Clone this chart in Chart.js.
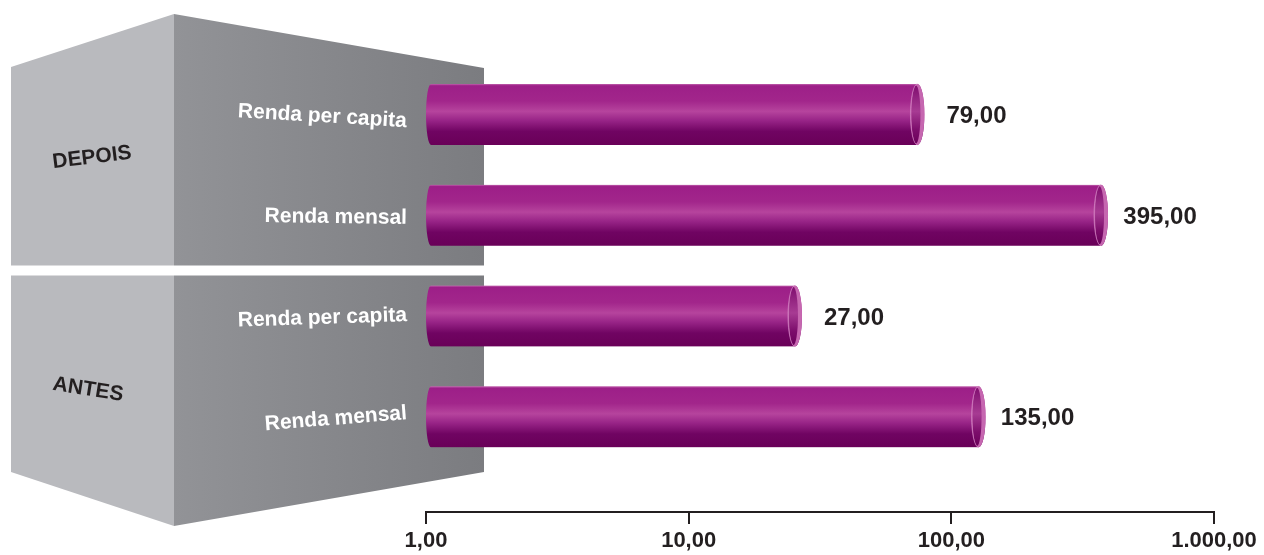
<!DOCTYPE html>
<html><head><meta charset="utf-8">
<script src="https://cdn.jsdelivr.net/npm/chart.js@4.4.1/dist/chart.umd.min.js"></script>
<style>html,body{margin:0;padding:0;background:#fff;}#wrap{width:1264px;height:555px;}</style>
</head><body><div id="wrap"><canvas id="c" width="1264" height="555"></canvas></div>
<script>
// ---- data ----
const groups = ['DEPOIS', 'ANTES'];
const categories = ['Renda per capita', 'Renda mensal', 'Renda per capita', 'Renda mensal'];
const values = [79, 395, 27, 135];
const xTicks = [1, 10, 100, 1000];

// ---- style ----
const FONT = '"Liberation Sans", Arial, Helvetica, sans-serif';
const INK = '#231f20';
const BAR_T = 61;

function fmt(v) {
  const parts = Number(v).toFixed(2).split('.');
  return parts[0].replace(/\B(?=(\d{3})+(?!\d))/g, '.') + ',' + parts[1];
}

function barGradient(ctx, yc) {
  if (!isFinite(yc)) return '#a0248a';
  const g = ctx.createLinearGradient(0, yc - BAR_T / 2, 0, yc + BAR_T / 2);
  g.addColorStop(0, '#c266ae');
  g.addColorStop(0.03, '#9d1f88');
  g.addColorStop(0.28, '#a2268b');
  g.addColorStop(0.45, '#b6449d');
  g.addColorStop(0.6, '#982487');
  g.addColorStop(0.78, '#700462');
  g.addColorStop(1, '#690058');
  return g;
}

const decor = {
  id: 'decor',
  beforeDraw(chart) {
    const ctx = chart.ctx, ys = chart.scales.y;
    const xL = 11, xM = 174, xR = 484;
    const sep = (ys.getPixelForValue(1) + ys.getPixelForValue(2)) / 2;
    const top2 = sep + 10;
    ctx.save();
    const dark = ctx.createLinearGradient(xM, 0, xR, 0);
    dark.addColorStop(0, '#929397');
    dark.addColorStop(1, '#7b7c80');
    // upper box
    ctx.fillStyle = '#b9babe';
    ctx.beginPath(); ctx.moveTo(xL, 67); ctx.lineTo(xM, 14); ctx.lineTo(xM, sep); ctx.lineTo(xL, sep); ctx.closePath(); ctx.fill();
    ctx.fillStyle = dark;
    ctx.beginPath(); ctx.moveTo(xM, 14); ctx.lineTo(xR, 68); ctx.lineTo(xR, sep); ctx.lineTo(xM, sep); ctx.closePath(); ctx.fill();
    // lower box
    ctx.fillStyle = '#b9babe';
    ctx.beginPath(); ctx.moveTo(xL, top2); ctx.lineTo(xM, top2); ctx.lineTo(xM, 526); ctx.lineTo(xL, 472); ctx.closePath(); ctx.fill();
    ctx.fillStyle = dark;
    ctx.beginPath(); ctx.moveTo(xM, top2); ctx.lineTo(xR, top2); ctx.lineTo(xR, 472); ctx.lineTo(xM, 526); ctx.closePath(); ctx.fill();
    // group labels
    ctx.fillStyle = INK;
    ctx.font = 'bold 21px ' + FONT;
    ctx.textAlign = 'center'; ctx.textBaseline = 'middle';
    const gl = [[groups[0], 92, sep - 108, -7], [groups[1], 88, sep + 124, 9]];
    gl.forEach(([t, x, y, a]) => {
      ctx.save(); ctx.translate(x, y); ctx.rotate(a * Math.PI / 180); ctx.fillText(t, 0, 0); ctx.restore();
    });
    // category labels
    ctx.fillStyle = '#ffffff';
    ctx.font = 'bold 21px ' + FONT;
    categories.forEach((t, i) => {
      const y = ys.getPixelForValue(i) + 2;
      const w = ctx.measureText(t).width;
      const a = (246 - y) * 0.026;
      ctx.save(); ctx.translate(407 - w / 2, y); ctx.rotate(a * Math.PI / 180); ctx.fillText(t, 0, 0); ctx.restore();
    });
    ctx.restore();
  },
  beforeDatasetsDraw(chart) {
    const ctx = chart.ctx;
    const meta = chart.getDatasetMeta(0);
    ctx.save();
    ctx.beginPath();
    meta.data.forEach(el => {
      const p = el.getProps(['x', 'y', 'base', 'height'], true);
      const h2 = p.height / 2, rl = 5, rr = 7;
      ctx.moveTo(p.base + rl, p.y + h2);
      ctx.ellipse(p.base + rl, p.y, rl, h2, 0, Math.PI / 2, Math.PI * 1.5);
      ctx.lineTo(p.x - rr, p.y - h2);
      ctx.ellipse(p.x - rr, p.y, rr, h2, 0, -Math.PI / 2, Math.PI / 2);
      ctx.closePath();
    });
    ctx.clip();
  },
  afterDatasetsDraw(chart) {
    const ctx = chart.ctx;
    ctx.restore();
    const meta = chart.getDatasetMeta(0);
    ctx.save();
    meta.data.forEach((el, i) => {
      const p = el.getProps(['x', 'y', 'base', 'height'], true);
      const h2 = p.height / 2, rr = 7;
      const cx = p.x - rr;
      // cap rim
      ctx.fillStyle = '#c667b0';
      ctx.beginPath(); ctx.ellipse(cx, p.y, rr, h2, 0, 0, Math.PI * 2); ctx.fill();
      // inner face
      const g = ctx.createLinearGradient(0, p.y - h2, 0, p.y + h2);
      g.addColorStop(0, '#7e0c6d');
      g.addColorStop(0.45, '#a73b93');
      g.addColorStop(0.75, '#7c0d6b');
      g.addColorStop(1, '#6a0059');
      ctx.fillStyle = g;
      ctx.beginPath(); ctx.ellipse(cx - 1.5, p.y, rr - 2.5, h2 - 1.5, 0, 0, Math.PI * 2); ctx.fill();
      ctx.strokeStyle = 'rgba(214,140,200,0.8)';
      ctx.lineWidth = 0.8;
      ctx.beginPath(); ctx.ellipse(cx, p.y, rr, h2, 0, Math.PI / 2, Math.PI * 1.5); ctx.stroke();
      // value label
      ctx.fillStyle = INK;
      ctx.font = 'bold 24px ' + FONT;
      ctx.textAlign = 'center'; ctx.textBaseline = 'middle';
      ctx.fillText(fmt(values[i]), p.x + 52, p.y + 2);
    });
    ctx.restore();
  }
};

new Chart(document.getElementById('c'), {
  type: 'bar',
  data: {
    datasets: [{
      data: values.map((v, i) => ({ x: v, y: i })),
      barThickness: BAR_T,
      borderWidth: 0,
      clip: false,
      backgroundColor: (c) => {
        const ys = c.chart.scales.y;
        if (!ys || !c.raw) return '#a0248a';
        return barGradient(c.chart.ctx, ys.getPixelForValue(c.raw.y));
      }
    }]
  },
  options: {
    indexAxis: 'y',
    responsive: false,
    animation: false,
    events: [],
    layout: { padding: { left: 426, right: 50, top: 64, bottom: 0 } },
    plugins: { legend: { display: false }, tooltip: { enabled: false } },
    scales: {
      y: { type: 'linear', display: false, reverse: true, offset: false, grid: { offset: false }, min: -0.5, max: 3.944 },
      x: {
        type: 'logarithmic', position: 'bottom', min: 1, max: 1000,
        afterBuildTicks: (s) => { s.ticks = xTicks.map(v => ({ value: v })); },
        afterFit: (s) => { s.height = 43; },
        grid: { drawOnChartArea: false, drawTicks: true, tickLength: 12, color: INK, lineWidth: 2 },
        border: { display: true, color: INK, width: 2 },
        ticks: {
          autoSkip: false, maxRotation: 0, padding: 4, color: INK,
          font: { family: FONT, size: 22, weight: 'bold' },
          callback: (v) => fmt(v)
        }
      }
    }
  },
  plugins: [decor]
});
</script>
</body></html>
